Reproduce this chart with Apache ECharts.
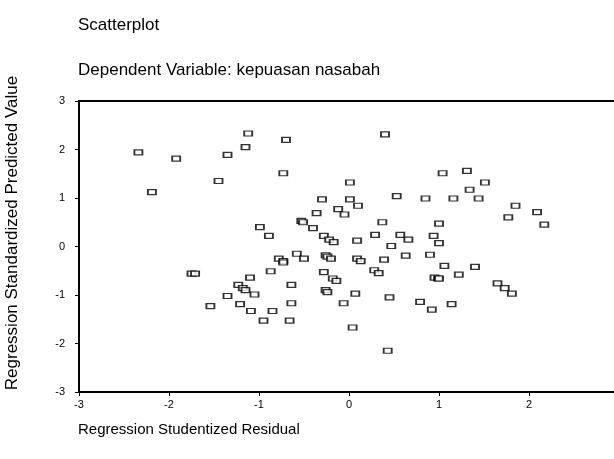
<!DOCTYPE html>
<html>
<head>
<meta charset="utf-8">
<script src="https://cdn.jsdelivr.net/npm/echarts@6/dist/echarts.min.js"></script>
<style>
  html, body { margin: 0; padding: 0; background: #fff; }
  #chart { width: 614px; height: 459px; }
</style>
</head>
<body>
<div id="chart"></div>
<script>
// Regression Studentized Residual (x) / Regression Standardized Predicted Value (y)
const residual = [
  -2.34, -2.19, -1.92, -1.45, -1.35, -1.15, -1.12, -0.70, 0.40, -0.73,
  0.01, -0.30, 0.01, 0.53, -0.12, 0.10, -0.05, -0.36, -0.99, -0.89,
  -0.53, -0.51, -0.40, 0.37, -0.28, -0.22, -0.17, 0.09, 0.29, 0.57,
  0.66, 0.47, 1.04, 1.31, 1.51, 1.34, 0.85, 1.16, 1.44, 1.85,
  1.77, 2.09, 2.17, 1.00, 0.94, 1.00, -1.75, -1.71, -1.23, -1.18,
  -1.15, -1.10, -1.35, -1.54, -1.21, -1.09, 0.63, 0.39, 0.09, 0.13,
  -0.26, -0.24, -0.20, -0.58, -0.50, -0.78, -0.73, -0.73, -0.87, -1.05,
  -0.64, -0.28, -0.18, -0.14, 0.28, 0.33, -0.26, -0.24, 0.07, -0.06,
  0.45, 0.79, -0.85, -0.64, -0.95, -0.66, 0.04, 0.43, 0.90, 1.06,
  1.40, 1.22, 0.95, 0.99, 1.00, 1.65, 1.73, 1.81, 0.92, 1.14
]
const predicted = [
  1.94, 1.12, 1.81, 1.35, 1.89, 2.05, 2.33, 2.20, 2.31, 1.51,
  1.32, 0.97, 0.97, 1.04, 0.77, 0.84, 0.66, 0.69, 0.40, 0.22,
  0.53, 0.50, 0.38, 0.50, 0.22, 0.14, 0.09, 0.12, 0.24, 0.24,
  0.14, 0.01, 1.51, 1.56, 1.32, 1.17, 0.99, 0.99, 0.99, 0.84,
  0.60, 0.71, 0.45, 0.47, 0.22, 0.07, -0.56, -0.56, -0.79, -0.86,
  -0.90, -0.64, -1.02, -1.23, -1.19, -1.33, -0.19, -0.27, -0.25, -0.30,
  -0.18, -0.21, -0.25, -0.15, -0.25, -0.25, -0.30, -0.33, -0.51, -0.99,
  -0.79, -0.53, -0.66, -0.71, -0.49, -0.55, -0.90, -0.94, -0.97, -1.17,
  -1.05, -1.14, -1.33, -1.17, -1.53, -1.53, -1.67, -2.15, -0.17, -0.40,
  -0.42, -0.58, -0.64, -0.66, -0.66, -0.76, -0.86, -0.97, -1.30, -1.19
]
const axisTicks = [-3, -2, -1, 0, 1, 2, 3]

const font = 'Liberation Sans, Arial, sans-serif'
const points = residual.map((x, i) => [x, predicted[i]])

const chart = echarts.init(document.getElementById('chart'))
chart.setOption({
  animation: false,
  backgroundColor: '#fff',
  textStyle: { fontFamily: font, color: '#000' },
  title: [
    {
      text: 'Scatterplot',
      left: 78,
      top: 17,
      padding: 0,
      textStyle: { fontSize: 17, fontWeight: 'normal', color: '#000', fontFamily: font }
    },
    {
      text: 'Dependent Variable: kepuasan nasabah',
      left: 78,
      top: 62,
      padding: 0,
      textStyle: { fontSize: 17, fontWeight: 'normal', color: '#000', fontFamily: font }
    },
    {
      text: 'Regression Studentized Residual',
      left: 78,
      top: 422,
      padding: 0,
      textStyle: { fontSize: 15, fontWeight: 'normal', color: '#000', fontFamily: font }
    }
  ],
  graphic: [
    {
      type: 'text',
      x: 12,
      y: 233,
      rotation: Math.PI / 2,
      style: {
        text: 'Regression Standardized Predicted Value',
        fontSize: 17,
        fontFamily: font,
        fill: '#000',
        align: 'center',
        verticalAlign: 'middle'
      }
    }
  ],
  grid: {
    left: 79,
    right: -5,
    top: 101,
    bottom: 67,
    outerBoundsMode: 'none',
    containLabel: false,
    show: true,
    borderColor: '#000',
    borderWidth: 2
  },
  xAxis: {
    type: 'value',
    min: axisTicks[0],
    max: axisTicks[axisTicks.length - 1],
    interval: 1,
    axisLine: { show: true, onZero: false, lineStyle: { color: '#000', width: 2 } },
    axisTick: { show: true, length: 4, lineStyle: { color: '#000' } },
    axisLabel: { fontSize: 11, color: '#000', margin: 7, fontFamily: font },
    splitLine: { show: false }
  },
  yAxis: {
    type: 'value',
    min: axisTicks[0],
    max: axisTicks[axisTicks.length - 1],
    interval: 1,
    axisLine: { show: true, onZero: false, lineStyle: { color: '#000', width: 2 } },
    axisTick: { show: true, length: 4, lineStyle: { color: '#000' } },
    axisLabel: { fontSize: 11, color: '#000', margin: 14, fontFamily: font },
    splitLine: { show: false }
  },
  series: [
    {
      type: 'scatter',
      data: points,
      symbol: 'rect',
      symbolSize: [8, 5],
      itemStyle: { color: '#fff', borderColor: '#000', borderWidth: 1.5 },
      emphasis: { disabled: true }
    }
  ]
})
</script>
</body>
</html>
